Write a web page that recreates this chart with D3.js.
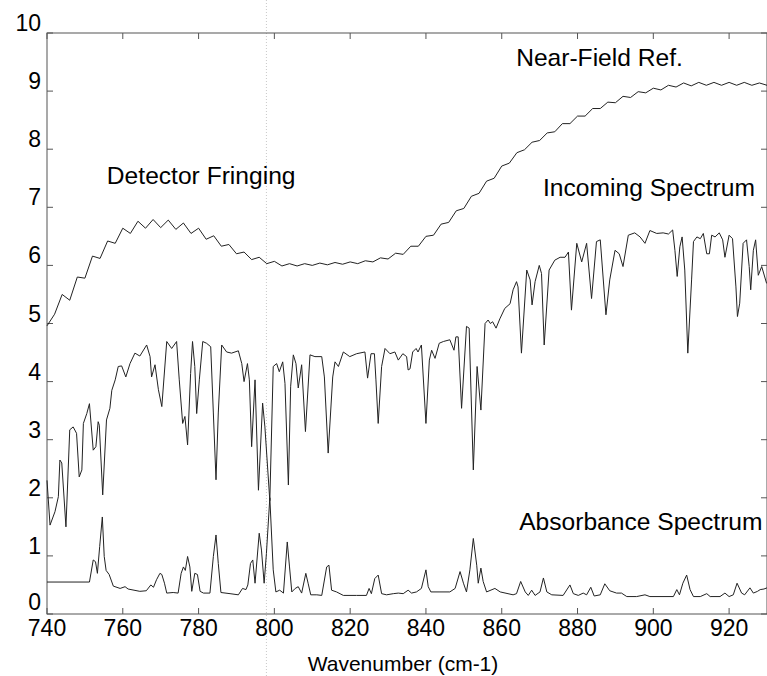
<!DOCTYPE html>
<html><head><meta charset="utf-8">
<script src="https://cdn.jsdelivr.net/npm/d3@7/dist/d3.min.js"></script>
<style>html,body{margin:0;padding:0;background:#fff;}svg{display:block;}</style>
</head><body>
<svg id="chart" width="767" height="676"></svg>
<script>
// ---------------- data ----------------
const xTicks = [740, 760, 780, 800, 820, 840, 860, 880, 900, 920];
const yTicks = [0, 1, 2, 3, 4, 5, 6, 7, 8, 9, 10];
const xLabel = "Wavenumber (cm-1)";

// Near-field reference (detector fringing curve)
const refWn = [740,742,744,746,748,750,752,754,756,758,760,762,764,766,768,770,772,774,776,778,
  780,782,784,786,788,790,792,794,796,798,800,802,804,806,808,810,812,814,816,818,
  820,822,824,826,828,830,832,834,836,838,840,842,844,846,848,850,852,854,856,858,
  860,862,864,866,868,870,872,874,876,878,880,882,884,886,888,890,892,894,896,898,
  900,902,904,906,908,910,912,914,916,918,920,922,924,926,928,930];
const refVal = [4.96,5.16,5.50,5.40,5.80,5.78,6.16,6.12,6.42,6.38,6.64,6.55,6.76,6.64,6.79,6.65,6.78,6.62,6.73,6.55,
  6.64,6.45,6.51,6.33,6.36,6.20,6.23,6.10,6.14,6.03,6.07,5.99,6.03,5.99,6.03,6.00,6.04,6.01,6.05,6.02,
  6.06,6.03,6.08,6.06,6.13,6.11,6.21,6.19,6.33,6.33,6.50,6.52,6.71,6.74,6.94,6.98,7.19,7.24,7.45,7.50,
  7.71,7.76,7.94,7.99,8.12,8.15,8.28,8.30,8.44,8.44,8.57,8.57,8.70,8.70,8.81,8.80,8.91,8.89,8.99,8.97,
  9.05,9.02,9.10,9.07,9.14,9.09,9.15,9.10,9.15,9.10,9.15,9.10,9.15,9.10,9.14,9.10];

// Incoming spectrum
const incWn = [740.0,740.8,742.1,743.0,743.4,743.9,745.0,746.0,746.9,747.8,748.5,749.2,749.6,750.5,751.2,752.2,752.9,753.5,753.8,754.7,
  755.7,756.6,757.1,758.0,758.8,759.7,760.8,761.9,763.2,764.5,766.3,767.2,767.6,768.5,769.4,770.3,771.6,772.9,774.2,774.9,
  775.8,776.4,777.1,777.9,778.4,779.0,779.5,780.2,781.1,782.1,783.2,783.9,784.6,785.2,786.1,787.4,788.7,790.5,791.4,792.0,
  792.9,793.4,794.0,794.9,795.8,796.9,797.5,798.8,799.7,800.6,801.3,802.2,802.8,803.7,804.3,805.0,805.7,806.3,807.2,808.2,
  809.4,810.7,812.5,813.2,814.2,815.4,816.0,816.9,818.2,819.9,821.7,823.9,824.6,825.5,826.4,826.8,827.4,828.3,829.2,830.5,
  831.8,832.7,833.9,834.9,835.3,835.8,836.5,837.4,837.9,838.8,840.0,840.9,841.5,842.4,843.5,844.6,846.3,847.4,847.9,848.5,
  849.4,850.7,851.4,852.5,853.5,854.5,855.6,856.4,857.0,857.6,858.5,859.5,860.8,862.2,863.0,863.9,864.3,865.2,866.6,867.5,
  868.0,868.8,869.9,870.5,871.2,872.5,874.0,875.4,876.7,877.6,878.4,879.8,881.1,882.4,883.7,885.0,886.0,887.5,888.5,889.9,
  891.0,892.0,893.4,895.1,896.5,897.8,899.1,900.9,902.6,904.0,905.1,905.7,906.3,907.0,907.6,908.3,909.1,910.1,910.6,911.5,
  912.4,913.2,914.1,914.8,915.4,916.3,917.4,918.3,918.9,920.0,920.9,921.8,922.2,922.8,923.7,924.6,925.3,925.7,926.4,927.0,
  927.7,928.6,929.9];
const incVal = [2.30,1.53,1.76,2.02,2.65,2.60,1.50,3.17,3.22,3.11,2.36,2.48,3.28,3.45,3.62,2.82,2.88,3.31,3.25,2.05,
  3.34,3.54,3.85,4.03,4.26,4.27,4.08,4.31,4.49,4.44,4.63,4.43,4.08,4.29,3.86,3.57,4.69,4.57,4.69,4.03,
  3.28,3.40,2.91,4.14,4.69,4.26,3.45,4.03,4.69,4.66,4.60,3.46,2.31,3.46,4.63,4.51,4.49,4.53,4.31,4.00,
  4.31,4.03,2.88,4.03,2.13,3.63,3.22,1.95,4.26,4.31,4.17,4.34,3.97,2.22,3.92,4.46,4.31,3.89,4.29,3.14,
  4.46,4.43,4.43,4.08,2.77,4.08,4.34,4.26,4.51,4.43,4.48,4.51,4.06,4.48,4.48,4.03,3.28,4.26,4.57,4.48,
  4.51,4.37,4.48,4.43,4.20,4.22,4.51,4.57,4.51,4.63,3.28,4.37,4.54,4.40,4.66,4.69,4.72,4.54,4.77,4.77,
  3.54,4.95,4.92,2.48,4.26,3.51,5.00,5.06,5.00,5.03,4.92,5.08,5.26,5.34,5.58,5.72,5.63,4.49,5.92,5.75,
  5.32,5.72,6.00,5.86,4.63,5.92,6.09,6.14,6.14,6.23,5.23,6.38,6.06,6.38,5.43,6.41,6.44,5.15,5.75,6.26,
  6.20,5.98,6.52,6.56,6.49,6.38,6.60,6.55,6.56,6.54,6.61,6.26,5.81,6.32,6.49,5.92,4.49,5.75,6.41,6.49,
  6.46,6.55,6.20,6.20,6.52,6.49,6.56,6.44,6.14,6.52,6.46,5.63,5.12,5.35,6.38,6.44,5.98,5.58,6.26,6.44,
  5.83,5.98,5.69];

// Absorbance spectrum
const absWn = [740.0,751.2,752.2,752.8,753.3,753.9,754.6,755.1,755.6,756.4,757.5,759.3,760.6,761.4,764.5,766.2,767.4,768.1,768.9,769.8,
  770.3,771.0,771.6,773.3,774.6,775.4,776.0,776.5,777.1,777.7,778.2,779.0,779.7,780.4,781.3,783.0,783.9,784.6,785.2,785.9,
  788.3,790.5,791.6,792.5,793.0,793.7,794.3,794.9,796.0,796.6,797.3,797.9,798.8,799.7,800.4,801.4,802.4,803.4,804.0,804.6,
  805.5,806.3,807.2,808.3,808.9,809.6,811.2,812.5,813.8,814.4,815.1,816.4,818.2,821.7,824.3,825.0,825.6,826.5,827.4,828.3,
  829.6,831.4,832.7,834.0,835.3,836.2,837.5,838.8,840.0,840.6,841.3,843.7,846.3,847.7,849.0,849.9,850.7,851.6,852.5,853.4,
  853.8,854.5,855.1,856.0,858.2,859.6,863.0,863.9,865.0,866.2,867.0,867.9,868.8,870.1,871.0,871.9,873.2,876.2,878.0,878.9,
  880.2,881.5,882.4,883.5,884.4,886.0,887.2,888.5,890.3,891.6,893.0,895.6,897.8,899.1,905.3,906.2,906.9,907.8,908.8,909.7,
  910.6,912.4,914.1,915.0,917.6,918.9,920.0,921.1,922.1,923.3,924.1,925.5,926.4,927.5,928.2,929.2,930.0];
const absVal = [0.55,0.55,0.93,0.90,0.70,1.16,1.67,0.99,0.75,0.68,0.48,0.44,0.47,0.43,0.39,0.40,0.50,0.46,0.59,0.70,
  0.68,0.53,0.36,0.37,0.36,0.70,0.81,0.75,0.99,0.81,0.39,0.70,0.68,0.39,0.36,0.36,0.99,1.36,0.87,0.37,
  0.35,0.33,0.44,0.42,0.50,0.87,0.93,0.53,1.39,1.10,0.53,1.04,2.00,0.76,0.38,0.41,0.36,1.24,0.81,0.38,
  0.44,0.47,0.36,0.70,0.53,0.33,0.33,0.32,0.81,0.84,0.41,0.38,0.32,0.32,0.32,0.44,0.35,0.61,0.67,0.35,
  0.33,0.35,0.36,0.35,0.41,0.36,0.38,0.44,0.76,0.47,0.38,0.38,0.38,0.44,0.73,0.53,0.38,0.76,1.30,0.84,
  0.53,0.79,0.56,0.38,0.44,0.38,0.33,0.35,0.56,0.38,0.32,0.41,0.32,0.38,0.62,0.38,0.33,0.32,0.50,0.35,
  0.32,0.36,0.33,0.46,0.31,0.33,0.52,0.40,0.36,0.36,0.30,0.30,0.33,0.30,0.30,0.42,0.33,0.53,0.67,0.42,
  0.30,0.30,0.35,0.30,0.30,0.36,0.30,0.33,0.53,0.36,0.33,0.45,0.36,0.39,0.42,0.43,0.45];

const annotations = [
  {text: "Near-Field Ref.", wn: 863.8, v: 9.43},
  {text: "Detector Fringing", wn: 755.8, v: 7.40},
  {text: "Incoming Spectrum", wn: 870.9, v: 7.20},
  {text: "Absorbance Spectrum", wn: 864.6, v: 1.45}
];

// ---------------- drawing ----------------
const svg = d3.select("#chart");
const x = d3.scaleLinear().domain([740, 930]).range([47, 767]);
const y = d3.scaleLinear().domain([0, 10]).range([614, 33]);
const FONT = "'Liberation Sans', Arial, sans-serif";

// faint scan crease
svg.append("line")
  .attr("x1", x(797.9)).attr("x2", x(797.9)).attr("y1", 0).attr("y2", 676)
  .attr("stroke", "#c8c8c8").attr("stroke-width", 1).attr("stroke-dasharray", "1,2");

// frame
svg.append("rect")
  .attr("x", x(740)).attr("y", y(10))
  .attr("width", x(930) - x(740)).attr("height", y(0) - y(10))
  .attr("fill", "none").attr("stroke", "#555").attr("stroke-width", 1);

// inward ticks
const tk = 6;
const g = svg.append("g").attr("stroke", "#555").attr("stroke-width", 1);
xTicks.forEach(t => {
  g.append("line").attr("x1", x(t)).attr("x2", x(t)).attr("y1", y(0)).attr("y2", y(0) - tk);
  g.append("line").attr("x1", x(t)).attr("x2", x(t)).attr("y1", y(10)).attr("y2", y(10) + tk);
});
yTicks.forEach(t => {
  g.append("line").attr("x1", x(740)).attr("x2", x(740) + tk).attr("y1", y(t)).attr("y2", y(t));
  g.append("line").attr("x1", x(930)).attr("x2", x(930) - tk).attr("y1", y(t)).attr("y2", y(t));
});

// tick labels
svg.append("g").selectAll("text").data(xTicks).join("text")
  .attr("x", d => x(d)).attr("y", y(0) + 22)
  .attr("text-anchor", "middle")
  .attr("font-family", FONT).attr("font-size", 23).attr("fill", "#000")
  .text(d => d);
svg.append("g").selectAll("text").data(yTicks).join("text")
  .attr("x", x(740) - 6).attr("y", d => y(d) - (d === 0 ? 4 : 2))
  .attr("text-anchor", "end")
  .attr("font-family", FONT).attr("font-size", 23).attr("fill", "#000")
  .text(d => d);

// axis title
svg.append("text")
  .attr("x", (x(740) + x(930)) / 2 - 4).attr("y", 671)
  .attr("text-anchor", "middle")
  .attr("font-family", FONT).attr("font-size", 21).attr("fill", "#000")
  .text(xLabel);

// curves
const line = d3.line().x(d => x(d[0])).y(d => y(d[1]));
const series = [
  d3.zip(refWn, refVal),
  d3.zip(incWn, incVal),
  d3.zip(absWn, absVal)
];
svg.append("g").selectAll("path").data(series).join("path")
  .attr("d", line)
  .attr("fill", "none").attr("stroke", "#222").attr("stroke-width", 1)
  .attr("stroke-linejoin", "round");

// annotations
svg.append("g").selectAll("text").data(annotations).join("text")
  .attr("x", d => x(d.wn)).attr("y", d => y(d.v))
  .attr("font-family", FONT).attr("font-size", 24.6).attr("fill", "#000")
  .text(d => d.text);
</script>
</body></html>
